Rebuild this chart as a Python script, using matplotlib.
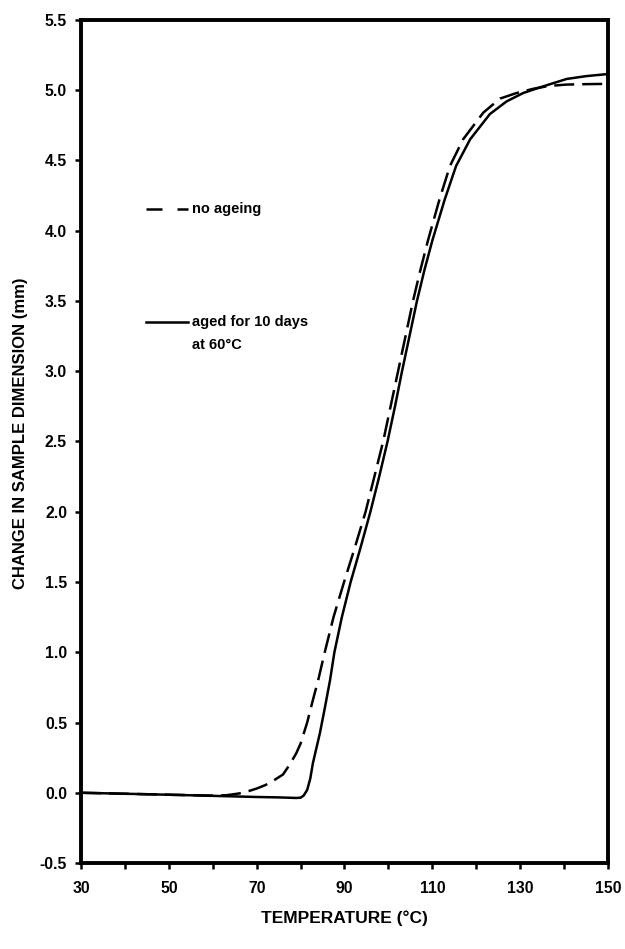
import numpy as np
import matplotlib
matplotlib.use('Agg')
from matplotlib import pyplot as plt
from matplotlib.ticker import MultipleLocator

plt.rcParams['font.family'] = ['Liberation Sans', 'DejaVu Sans']
plt.rcParams['font.weight'] = 'bold'

# no ageing (dashed)
temp_fresh = [30, 40, 50, 60, 63, 66, 68, 70, 72, 74, 76, 77.5, 79, 80, 81.5, 82.8, 84, 85.5,
              87.5, 89.9, 92.4, 94.8, 96.8, 98.8, 100.5, 102.2, 103.9, 105.6, 107.2, 109.0,
              111.6, 114.0, 117.0, 121.6, 125.4, 129.2, 133.0, 136.5, 140.6, 145, 150]
dim_fresh = [0.0, -0.007, -0.014, -0.02, -0.018, -0.005, 0.01, 0.03, 0.055, 0.09, 0.13, 0.2,
             0.28, 0.35, 0.5, 0.66, 0.8, 1.0, 1.25, 1.5, 1.75, 2.0, 2.25, 2.5, 2.75, 3.0, 3.25,
             3.5, 3.71, 3.93, 4.22, 4.46, 4.65, 4.84, 4.94, 4.98, 5.01, 5.03, 5.04, 5.043, 5.045]

# aged for 10 days at 60 C (solid)
temp_aged = [30, 40, 50, 60, 70, 75, 79, 80, 80.7, 81.5, 82.2, 82.8, 84.4, 85.5, 86.7, 87.7,
             89.4, 91.4, 93.7, 95.9, 97.9, 99.8, 101.5, 103.1, 104.8, 106.5, 108.2, 110.0,
             112.8, 115.4, 118.6, 123.1, 126.9, 130.7, 134.5, 140.6, 145, 150]
dim_aged = [0.0, -0.007, -0.014, -0.022, -0.03, -0.033, -0.037, -0.035, -0.02, 0.02, 0.1, 0.21,
            0.425, 0.6, 0.8, 1.0, 1.25, 1.5, 1.75, 2.0, 2.25, 2.5, 2.75, 3.0, 3.25, 3.5, 3.72,
            3.93, 4.22, 4.46, 4.65, 4.83, 4.92, 4.98, 5.02, 5.08, 5.10, 5.115]

fig = plt.figure(figsize=(6.25, 9.49), dpi=100)
ax = fig.add_axes([0.1296, 0.0906, 0.8432, 0.8884])

ax.plot(temp_fresh, dim_fresh, color='black', lw=1.8, dashes=(8, 3.2))
ax.plot(temp_aged, dim_aged, color='black', lw=1.8)

ax.set_xlim(30, 150)
ax.set_ylim(-0.5, 5.5)
ax.set_xticks([30, 50, 70, 90, 110, 130, 150])
ax.xaxis.set_minor_locator(MultipleLocator(10))
ax.set_yticks(np.arange(-0.5, 5.51, 0.5))
ax.yaxis.set_major_formatter(plt.FormatStrFormatter('%.1f'))

for s in ax.spines.values():
    s.set_linewidth(2.8)
ax.tick_params(which='both', direction='out', width=1.8, labelsize=11.3)
ax.tick_params(which='major', length=4)
ax.tick_params(axis='x', which='major', pad=9)
ax.tick_params(axis='y', which='major', pad=6)
ax.tick_params(which='minor', length=4)

ax.set_xlabel('TEMPERATURE (°C)', fontsize=12.5, fontweight='bold', labelpad=10)
ax.set_ylabel('CHANGE IN SAMPLE DIMENSION (mm)', fontsize=12, fontweight='bold')
ax.yaxis.set_label_coords(-0.10, 0.51)

# hand-drawn legend
ax.plot([0.123, 0.203], [0.776, 0.776], transform=ax.transAxes, color='black', lw=1.8, dashes=(6.4, 6))
ax.text(0.21, 0.776, 'no ageing', transform=ax.transAxes, va='center', fontsize=10.5, fontweight='bold')
ax.plot([0.123, 0.203], [0.642, 0.642], transform=ax.transAxes, color='black', lw=1.8)
ax.text(0.21, 0.642, 'aged for 10 days', transform=ax.transAxes, va='center', fontsize=10.5, fontweight='bold')
ax.text(0.21, 0.6145, 'at 60°C', transform=ax.transAxes, va='center', fontsize=10.5, fontweight='bold')

plt.savefig('out.png', dpi=100)
